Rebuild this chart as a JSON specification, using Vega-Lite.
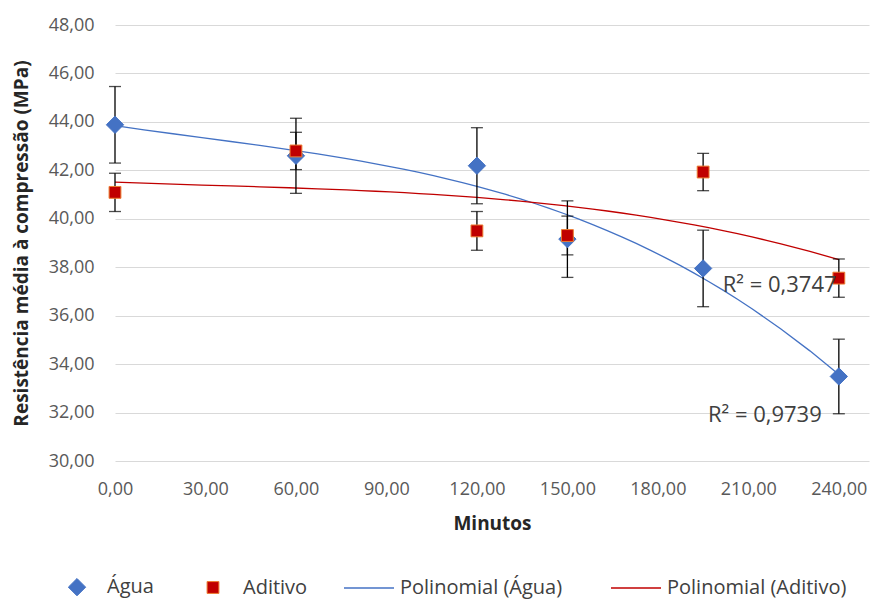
{
  "$schema": "https://vega.github.io/schema/vega-lite/v6.json",
  "autosize": "none",
  "width": 754,
  "height": 436,
  "padding": {"left": 115, "top": 25, "right": 4, "bottom": 140},
  "background": "white",
  "data": {
    "values": [
      {"minutos": 0, "serie": "Água", "resistencia": 43.88, "desvio": 1.58},
      {"minutos": 60, "serie": "Água", "resistencia": 42.6, "desvio": 1.55},
      {"minutos": 120, "serie": "Água", "resistencia": 42.19, "desvio": 1.57},
      {"minutos": 150, "serie": "Água", "resistencia": 39.16, "desvio": 1.58},
      {"minutos": 195, "serie": "Água", "resistencia": 37.95, "desvio": 1.58},
      {"minutos": 240, "serie": "Água", "resistencia": 33.49, "desvio": 1.54},
      {"minutos": 0, "serie": "Aditivo", "resistencia": 41.09, "desvio": 0.79},
      {"minutos": 60, "serie": "Aditivo", "resistencia": 42.8, "desvio": 0.77},
      {"minutos": 120, "serie": "Aditivo", "resistencia": 39.5, "desvio": 0.8},
      {"minutos": 150, "serie": "Aditivo", "resistencia": 39.31, "desvio": 0.8},
      {"minutos": 195, "serie": "Aditivo", "resistencia": 41.93, "desvio": 0.77},
      {"minutos": 240, "serie": "Aditivo", "resistencia": 37.55, "desvio": 0.79}
    ]
  },
  "encoding": {
    "x": {
      "field": "minutos",
      "type": "quantitative",
      "scale": {"domain": [0, 250], "nice": false, "zero": false},
      "axis": {
        "values": [0, 30, 60, 90, 120, 150, 180, 210, 240],
        "labelExpr": "replace(format(datum.value, '.2f'), '.', ',')",
        "labelFlush": false,
        "title": "Minutos",
        "grid": false,
        "labelPadding": 19,
        "titlePadding": 16
      }
    },
    "y": {
      "field": "resistencia",
      "type": "quantitative",
      "scale": {"domain": [30, 48], "nice": false, "zero": false},
      "axis": {
        "values": [30, 32, 34, 36, 38, 40, 42, 44, 46, 48],
        "labelExpr": "replace(format(datum.value, '.2f'), '.', ',')",
        "title": "Resistência média à compressão (MPa)",
        "grid": true,
        "labelPadding": 21,
        "titlePadding": 17
      }
    }
  },
  "layer": [
    {
      "transform": [
        {"regression": "resistencia", "on": "minutos", "method": "poly", "order": 3, "groupby": ["serie"], "extent": [0, 240]}
      ],
      "mark": {"type": "line", "strokeWidth": 1.3},
      "encoding": {
        "color": {
          "field": "serie",
          "type": "nominal",
          "scale": {"domain": ["Água", "Aditivo"], "range": ["#4472C4", "#C00000"]},
          "legend": {
            "orient": "none",
            "legendX": 228,
            "legendY": 537,
            "direction": "horizontal",
            "title": null,
            "padding": 0,
            "symbolType": "stroke",
            "symbolSize": 2500,
            "symbolStrokeWidth": 1.5,
            "labelFontSize": 20,
            "labelColor": "#404040",
            "labelOffset": 5,
            "labelLimit": 300,
            "columnPadding": 45,
            "labelExpr": "'Polinomial (' + datum.label + ')'"
          }
        }
      }
    },
    {
      "mark": {"type": "errorbar", "color": "#000000", "thickness": 1.3, "ticks": {"size": 12, "thickness": 1.3}},
      "encoding": {
        "yError": {"field": "desvio"}
      }
    },
    {
      "mark": {"type": "point", "filled": true, "opacity": 1, "strokeWidth": 1},
      "encoding": {
        "color": {
          "field": "serie",
          "type": "nominal",
          "scale": {"domain": ["Água", "Aditivo"], "range": ["#4472C4", "#C00000"]},
          "legend": {
            "orient": "none",
            "legendX": -48,
            "legendY": 552,
            "direction": "horizontal",
            "title": null,
            "padding": 0,
            "symbolSize": 180,
            "symbolOpacity": 1,
            "labelFontSize": 20,
            "labelColor": "#404040",
            "labelOffset": 20,
            "columnPadding": 49,
            "encode": {
              "symbols": {
                "update": {
                  "stroke": {"signal": "datum.value === 'Aditivo' ? '#ED7D31' : '#4472C4'"},
                  "strokeWidth": {"value": 1}
                }
              }
            }
          }
        },
        "shape": {
          "field": "serie",
          "type": "nominal",
          "scale": {"domain": ["Água", "Aditivo"], "range": ["diamond", "square"]},
          "legend": {
            "orient": "none",
            "legendX": -48,
            "legendY": 552,
            "direction": "horizontal",
            "title": null,
            "padding": 0,
            "symbolSize": 180,
            "labelFontSize": 20,
            "labelColor": "#404040",
            "labelOffset": 20,
            "columnPadding": 49
          }
        },
        "size": {
          "field": "serie",
          "type": "ordinal",
          "scale": {"domain": ["Água", "Aditivo"], "range": [300, 140]},
          "legend": null
        },
        "stroke": {
          "field": "serie",
          "type": "nominal",
          "scale": {"domain": ["Água", "Aditivo"], "range": ["#4472C4", "#ED7D31"]},
          "legend": null
        }
      }
    },
    {
      "data": {
        "values": [
          {"minutos": 201.5, "resistencia": 37.28, "rotulo": "R² = 0,3747"},
          {"minutos": 196.6, "resistencia": 31.91, "rotulo": "R² = 0,9739"}
        ]
      },
      "mark": {"type": "text", "align": "left", "baseline": "middle", "fontSize": 22, "color": "#404040"},
      "encoding": {
        "text": {"field": "rotulo"}
      }
    }
  ],
  "resolve": {
    "scale": {"color": "independent", "shape": "independent", "size": "independent", "stroke": "independent"}
  },
  "config": {
    "font": "Open Sans",
    "view": {"stroke": null},
    "axis": {
      "domain": false,
      "ticks": false,
      "gridColor": "#D9D9D9",
      "gridWidth": 1,
      "labelFont": "Open Sans",
      "labelFontSize": 18,
      "labelColor": "#595959",
      "titleFont": "Open Sans",
      "titleFontSize": 19,
      "titleFontWeight": "bold",
      "titleColor": "#262626"
    },
    "legend": {
      "labelFont": "Open Sans"
    }
  }
}
